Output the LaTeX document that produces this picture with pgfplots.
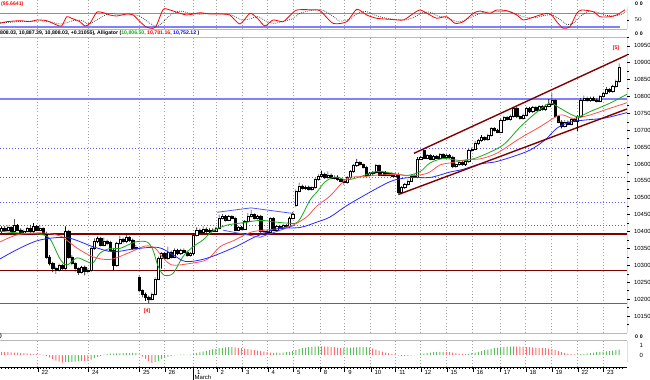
\documentclass[border=0pt]{standalone}
\usepackage{fontspec}
\setmainfont{Liberation Sans}
\usepackage{pgfplots}
\pgfplotsset{compat=1.18}
\usepackage{pgfplotstable}
\pgfplotsset{scaled ticks=false}

\definecolor{lblue}{RGB}{128,128,255}
\definecolor{dotblue}{RGB}{90,90,255}
\definecolor{dred}{RGB}{128,0,0}
\definecolor{agreen}{RGB}{20,170,20}
\definecolor{ared}{RGB}{255,80,80}
\definecolor{ablue}{RGB}{40,40,255}
\definecolor{aogreen}{RGB}{90,190,90}
\definecolor{aored}{RGB}{255,110,110}
\definecolor{gridgray}{RGB}{165,165,165}
\definecolor{sepgray}{RGB}{185,185,185}
\newcommand\tf{\fontsize{6}{6}\selectfont}
\newcommand\hf{\fontsize{5.2}{6}\selectfont\bfseries}

\pgfplotstableread{
i o h l c
0 10400 10415 10395 10410
1 10410 10416 10400 10405
2 10405 10418 10401 10412
3 10412 10416 10396 10400
4 10400 10437 10397 10418
5 10418 10422 10402 10405
6 10405 10409 10390 10395
7 10395 10406 10391 10402
8 10402 10414 10398 10410
9 10410 10420 10396 10400
10 10400 10425 10397 10415
11 10415 10419 10401 10405
12 10405 10420 10401 10410
13 10410 10414 10390 10395
14 10395 10400 10320 10325
15 10325 10330 10300 10305
16 10305 10310 10280 10290
17 10290 10296 10275 10285
18 10285 10305 10281 10300
19 10300 10304 10286 10290
20 10290 10415 10287 10400
21 10400 10405 10320 10325
22 10325 10330 10300 10305
23 10305 10310 10280 10290
24 10290 10294 10272 10280
25 10280 10298 10276 10295
26 10295 10299 10270 10282
27 10282 10290 10276 10285
28 10285 10355 10280 10350
29 10350 10380 10346 10370
30 10370 10385 10366 10380
31 10380 10384 10356 10360
32 10360 10382 10356 10372
33 10372 10376 10360 10365
34 10368 10372 10341 10345
35 10345 10350 10285 10300
36 10300 10369 10296 10365
37 10365 10388 10361 10378
38 10378 10382 10365 10370
39 10370 10390 10366 10382
40 10382 10386 10370 10375
41 10375 10379 10346 10350
42 10350 10360 10346 10355
43 10265 10270 10220 10225
44 10225 10229 10205 10215
45 10215 10219 10195 10205
46 10205 10210 10188 10200
47 10200 10219 10196 10215
48 10215 10264 10211 10260
49 10260 10326 10256 10322
50 10320 10338 10290 10335
51 10335 10339 10315 10320
52 10320 10355 10316 10340
53 10340 10344 10320 10325
54 10325 10350 10321 10345
55 10345 10349 10330 10335
56 10335 10349 10331 10345
57 10345 10350 10335 10340
58 10340 10344 10325 10330
59 10330 10339 10326 10335
60 10335 10395 10331 10390
61 10390 10412 10386 10405
62 10405 10409 10393 10398
63 10398 10415 10394 10408
64 10408 10412 10395 10400
65 10400 10409 10396 10405
66 10405 10409 10398 10402
67 10402 10414 10398 10410
68 10410 10450 10406 10440
69 10440 10452 10436 10445
70 10445 10449 10430 10435
71 10435 10449 10431 10445
72 10445 10449 10436 10440
73 10440 10444 10401 10405
74 10405 10416 10401 10412
75 10412 10416 10404 10408
76 10408 10434 10404 10430
77 10430 10455 10426 10445
78 10445 10464 10441 10450
79 10450 10454 10436 10440
80 10440 10449 10436 10445
81 10445 10449 10396 10400
82 10400 10406 10396 10402
83 10402 10406 10394 10398
84 10398 10442 10394 10438
85 10438 10442 10401 10405
86 10405 10419 10401 10415
87 10415 10419 10406 10410
88 10410 10422 10406 10418
89 10418 10422 10411 10415
90 10415 10444 10411 10440
91 10440 10458 10436 10450
92 10478 10525 10472 10520
93 10520 10545 10516 10535
94 10535 10539 10524 10528
95 10528 10536 10524 10532
96 10532 10536 10521 10525
97 10525 10534 10521 10530
98 10530 10559 10526 10555
99 10555 10569 10551 10565
100 10565 10580 10561 10570
101 10570 10574 10556 10560
102 10560 10578 10556 10568
103 10568 10572 10554 10558
104 10558 10566 10554 10562
105 10562 10566 10551 10555
106 10555 10559 10546 10550
107 10550 10554 10538 10545
108 10545 10564 10541 10560
109 10560 10582 10556 10578
110 10578 10599 10574 10595
111 10595 10615 10591 10605
112 10605 10609 10594 10598
113 10598 10602 10586 10590
114 10590 10594 10564 10568
115 10568 10576 10564 10572
116 10572 10579 10568 10575
117 10575 10600 10571 10595
118 10595 10599 10564 10568
119 10568 10579 10564 10575
120 10575 10579 10564 10568
121 10568 10576 10564 10572
122 10572 10576 10561 10565
123 10565 10574 10561 10570
124 10570 10574 10508 10515
125 10515 10534 10511 10530
126 10530 10544 10526 10540
127 10540 10554 10536 10550
128 10550 10569 10546 10565
129 10565 10569 10558 10562
130 10562 10620 10558 10615
131 10615 10624 10611 10620
132 10640 10647 10614 10618
133 10618 10629 10614 10625
134 10625 10629 10611 10615
135 10615 10626 10611 10622
136 10622 10626 10614 10618
137 10618 10632 10614 10628
138 10628 10632 10616 10620
139 10620 10629 10616 10625
140 10625 10629 10616 10620
141 10620 10624 10588 10592
142 10592 10602 10588 10598
143 10598 10609 10594 10605
144 10605 10609 10594 10598
145 10598 10612 10594 10608
146 10608 10644 10604 10640
147 10640 10649 10636 10645
148 10645 10668 10641 10660
149 10660 10674 10656 10670
150 10670 10685 10666 10678
151 10678 10682 10668 10672
152 10672 10689 10668 10685
153 10685 10709 10681 10705
154 10705 10709 10696 10700
155 10700 10704 10691 10695
156 10695 10734 10691 10730
157 10730 10742 10726 10738
158 10738 10742 10728 10732
159 10732 10746 10728 10742
160 10742 10769 10738 10765
161 10765 10770 10736 10740
162 10740 10744 10731 10735
163 10735 10749 10731 10745
164 10745 10769 10741 10765
165 10765 10769 10751 10755
166 10755 10772 10751 10768
167 10768 10772 10756 10760
168 10760 10774 10756 10770
169 10770 10774 10758 10762
170 10762 10776 10758 10772
171 10772 10792 10768 10778
172 10778 10810 10774 10788
173 10788 10792 10736 10740
174 10740 10744 10721 10725
175 10725 10729 10705 10712
176 10712 10729 10708 10725
177 10725 10729 10714 10718
178 10718 10736 10714 10732
179 10732 10736 10724 10728
180 10728 10744 10698 10740
181 10740 10795 10736 10790
182 10790 10802 10786 10795
183 10795 10799 10784 10788
184 10788 10799 10784 10795
185 10795 10799 10786 10790
186 10790 10794 10782 10786
187 10786 10804 10782 10800
188 10800 10814 10796 10810
189 10810 10828 10806 10820
190 10820 10824 10811 10815
191 10815 10834 10811 10830
192 10830 10850 10826 10845
193 10845 10898 10840 10887
}\candles

\pgfplotstableread{
x p
0 10401
17 10396
40 10392
50 10378
60 10319
67 10301
77 10322
87 10311
93 10307
100 10336
110 10350
120 10350
135 10369
147 10369
153 10345
158 10298
164 10271
173 10276
183 10326
193 10355
203 10375
213 10402
227 10419
243 10426
260 10433
273 10429
287 10425
298 10429
310 10493
317 10517
325 10547
335 10561
347 10553
360 10562
377 10578
393 10572
407 10566
420 10577
430 10603
443 10616
455 10612
465 10610
480 10622
503 10656
520 10709
537 10754
550 10780
560 10765
577 10740
590 10755
610 10780
627 10806.5
}\lips

\pgfplotstableread{
x p
0 10369
17 10390
40 10396
60 10387
77 10351
93 10325
110 10317
128 10336
145 10357
155 10351
163 10322
172 10301
187 10304
207 10317
220 10355
235 10375
252 10399
277 10408
293 10419
307 10444
317 10476
330 10505
347 10557
363 10562
377 10567
397 10569
410 10565
427 10572
440 10597
452 10604
467 10613
480 10615
497 10632
520 10676
540 10710
560 10745
573 10735
590 10745
608 10763
627 10781.2
}\teeth

\pgfplotstableread{
x p
0 10319
20 10351
40 10375
67 10382
93 10355
113 10340
133 10348
158 10353
173 10331
186 10311
207 10321
235 10354
255 10384
277 10408
300 10412
317 10428
330 10443
348 10479
377 10528
393 10551
410 10560
430 10560
450 10576
463 10584
480 10600
495 10606
513 10622
530 10641
545 10671
557 10706
570 10724
585 10730
605 10736
627 10752.1
}\jaw

\pgfplotstableread{
x v
0 35.2
6.7 42.4
20 46.9
30 42.4
36.7 50
46.7 46.9
56.7 27.6
61.7 23.1
66.7 64.8
71.7 57.6
80 42.4
85 23.1
90 35.2
96.7 84.5
103.3 82.7
110 72.4
116.7 67.9
126.7 76.9
133.3 72.4
140 42.4
146.7 17.3
153.3 12.8
156.7 27.6
163.3 98
170 94.8
180 80
186.7 72.4
193.3 76.9
200 82.7
210 76.9
222 76.9
230 72
240 32
250 80
258 55
265 23
273 50
283 42.4
290 70
296.7 94.8
310 96
320 91.6
333 35.2
346.7 42.4
356.7 98
366.7 72.4
376.7 57.6
390 53
403.3 50
412 75
420 94.8
430 72.4
436.7 57.6
446.7 64.8
455 35.2
463.3 42.4
473.3 80
480 90.3
490 80
496.7 94.8
506.7 91.6
516.7 72.4
523.3 50
530 57.6
540 72.4
546.7 80
551.7 72.4
556.7 42.4
563.3 12.8
570 20
576.7 80
581.7 94.8
593.3 87.2
600 64.8
610 64.8
616.7 72.4
625 95.7
}\stochk

\pgfplotstableread{
x v
0 38
10 40
22 44
32 45
42 46
52 40
60 32
67 38
74 48
82 48
88 33
95 45
102 65
110 80
118 74
128 72
136 72
143 58
150 35
157 20
164 45
171 75
180 90
190 80
200 76
210 80
220 78
232 72
242 50
250 55
258 65
266 45
274 35
284 45
292 55
300 80
310 92
322 95
332 70
340 45
350 55
358 80
366 88
376 70
386 58
396 52
405 50
414 62
422 82
430 85
438 68
446 62
452 50
460 42
468 55
476 72
484 85
492 86
500 88
510 88
520 70
528 60
537 62
546 72
553 72
560 52
567 30
573 35
580 65
588 88
597 85
605 72
613 68
621 75
625 85
}\stochd

\pgfplotstableread{
i v g
0 3.2 0
1 3.0 0
2 2.8 0
3 2.6 0
4 2.5 0
5 2.3 0
6 2.0 0
7 1.8 0
8 1.6 0
9 1.3 0
10 1.0 0
11 0.8 0
12 0.6 0
13 0.3 0
14 -1.0 0
15 -2.5 0
16 -4.0 0
17 -5.5 0
18 -6.5 0
19 -7.6 0
20 -7.2 1
21 -7.0 1
22 -6.8 1
23 -6.5 1
24 -6.2 1
25 -5.8 1
26 -6.0 0
27 -6.2 0
28 -4.5 1
29 -3.0 1
30 -1.8 1
31 -0.8 1
32 0.3 1
33 0.9 1
34 1.3 1
35 1.5 1
36 1.6 1
37 1.7 1
38 1.8 1
39 1.9 1
40 2.0 1
41 2.1 1
42 2.2 1
43 0.6 0
44 -1.5 0
45 -4.0 0
46 -6.0 0
47 -8.0 0
48 -7.2 1
49 -5.8 1
50 -4.2 1
51 -2.6 1
52 -1.5 1
53 -0.8 1
54 -0.3 1
55 0.2 1
56 0.4 1
57 0.3 0
58 0.2 0
59 0.5 1
60 1.0 1
61 1.8 1
62 2.6 1
63 3.4 1
64 4.2 1
65 5.0 1
66 5.6 1
67 6.2 1
68 6.8 1
69 7.2 1
70 7.6 1
71 7.8 1
72 8.0 1
73 7.6 0
74 7.2 0
75 6.8 0
76 6.5 0
77 6.0 0
78 5.5 0
79 5.0 0
80 4.5 0
81 4.0 0
82 3.5 0
83 3.0 0
84 2.5 0
85 2.2 0
86 2.3 1
87 2.2 0
88 2.5 1
89 2.8 1
90 3.2 1
91 4.0 1
92 5.0 1
93 6.0 1
94 6.8 1
95 7.4 1
96 7.8 1
97 8.2 1
98 8.5 1
99 8.6 1
100 8.7 1
101 8.5 0
102 8.3 0
103 8.0 0
104 7.8 0
105 7.5 0
106 7.2 0
107 7.3 1
108 7.4 1
109 7.5 1
110 7.6 1
111 7.7 1
112 7.8 1
113 7.9 1
114 8.0 1
115 7.5 0
116 6.5 0
117 5.5 0
118 4.5 0
119 3.5 0
120 2.5 0
121 1.8 0
122 1.2 0
123 0.8 0
124 -0.3 0
125 -0.8 0
126 -1.0 0
127 -0.9 1
128 -0.6 1
129 -0.2 1
130 0.3 1
131 0.8 1
132 1.4 1
133 2.0 1
134 2.5 1
135 2.8 1
136 3.0 1
137 3.1 1
138 3.2 1
139 3.0 0
140 2.8 0
141 2.5 0
142 2.0 0
143 1.5 0
144 1.2 0
145 1.0 0
146 1.2 1
147 1.8 1
148 2.5 1
149 3.2 1
150 4.0 1
151 4.8 1
152 5.5 1
153 6.2 1
154 6.8 1
155 7.3 1
156 7.7 1
157 8.0 1
158 8.3 1
159 8.5 1
160 8.6 1
161 8.5 0
162 8.3 0
163 8.2 0
164 8.0 0
165 7.8 0
166 7.6 0
167 7.4 0
168 7.2 0
169 7.0 0
170 6.8 0
171 6.5 0
172 6.0 0
173 5.0 0
174 4.0 0
175 3.0 0
176 2.2 0
177 1.5 0
178 1.0 0
179 0.7 0
180 0.6 0
181 0.8 1
182 1.2 1
183 1.6 1
184 2.0 1
185 2.4 1
186 2.8 1
187 3.1 1
188 3.4 1
189 3.7 1
190 4.0 1
191 4.4 1
192 4.8 1
193 5.3 1
}\ao

\def\daylist{37.7,88.3,139.3,164.7,193.3,216.7,242.3,267.7,293.3,320,344.5,370.7,395.5,420.7,446.7,472.7,500,525.7,551.7,577.7,603.3}

\pgfplotsset{
  mainpanel/.style={at={(0bp,-37bp)}, anchor=north west, scale only axis,
    width=627bp, height=296bp, xmin=0, xmax=627, ymin=10099.6, ymax=10975.8},
  vgrid/.style={xtick/.expand once=\daylist, xticklabels={}, xmajorgrids,
    major x grid style={gridgray, line width=0.6bp, dash pattern=on 0.8bp off 2.4bp}},
}

\begin{document}
\begin{tikzpicture}
\useasboundingbox (0,0) rectangle (650bp,-380bp);

% ---------- stochastic panel ----------
\begin{axis}[at={(0bp,0bp)}, anchor=north west, scale only axis,
  width=627bp, height=29bp, xmin=0, xmax=627, ymin=9.7, ymax=139.6,
  axis line style={draw=none}, vgrid, x tick style={draw=none},
  ytick={50}, ytick pos=right, yticklabel pos=right, tick align=outside,
  major tick length=2bp, y tick style={black, line width=0.4bp},
  yticklabel style={font=\tf, xshift=2bp}]
\addplot[lblue, line width=1.6bp] coordinates {(0,80) (620,80)};
\addplot[lblue, line width=1.6bp] coordinates {(0,20) (620,20)};
\addplot[black!80, line width=0.7bp, dash pattern=on 0.8bp off 1.2bp, smooth, tension=0.4] table[x=x,y=v] {\stochd};
\addplot[red, line width=0.8bp, smooth, tension=0.4] table[x=x,y=v] {\stochk};
\draw[black, line width=0.5bp] (rel axis cs:1,0) -- (rel axis cs:1,0.76);
\end{axis}
\node[anchor=west, inner sep=0pt, text=red] at (1bp,-4bp) {\hf (95.6641)};

\draw[sepgray, line width=1bp] (0,-29.5bp) -- (627bp,-29.5bp);
\node[anchor=west, inner sep=0pt] at (0bp,-33.3bp) {\hf 808.03, 10,887.39, 10,808.03, +0.31055), Alligator (\textcolor{agreen}{10,806.50,} \textcolor{red}{10,781.16,} \textcolor{blue}{10,752.12} )};
\draw[sepgray, line width=0.8bp] (0,-37bp) -- (627bp,-37bp);

% ---------- main panel: grid, levels, axis ----------
\begin{axis}[mainpanel, axis line style={draw=none}, vgrid, x tick style={draw=none},
  ytick={10150,10200,...,10950}, minor ytick={10125,10175,...,10975},
  ytick pos=right, yticklabel pos=right, tick align=outside,
  major tick length=2.5bp, minor tick length=1.5bp,
  y tick style={black, line width=0.4bp},
  yticklabel style={font=\tf, xshift=1bp},
  y tick label style={/pgf/number format/fixed, /pgf/number format/precision=0, /pgf/number format/1000 sep={}, /pgf/number format/assume math mode=true}]
\addplot[lblue, line width=2bp] coordinates {(0,10792) (627,10792)};
\addplot[dotblue, line width=0.8bp, dash pattern=on 1bp off 2bp] coordinates {(0,10647) (627,10647)};
\addplot[dotblue, line width=0.8bp, dash pattern=on 1bp off 2bp] coordinates {(0,10560) (627,10560)};
\addplot[dotblue, line width=0.8bp, dash pattern=on 1bp off 2bp] coordinates {(0,10486) (627,10486)};
\addplot[dotblue, line width=0.8bp, dash pattern=on 1bp off 2bp] coordinates {(0,10417) (627,10417)};
\addplot[dred, line width=1.4bp] coordinates {(0,10393) (627,10393)};
\addplot[dred, line width=1.4bp] coordinates {(0,10285) (627,10285)};
\addplot[ablue!80, line width=0.8bp] coordinates {(0,10188) (627,10188)};
\draw[black, line width=0.5bp] (rel axis cs:1,0) -- (rel axis cs:1,1);
\end{axis}

% ---------- candles ----------
\begin{axis}[mainpanel, hide axis, ybar stacked, clip=true]
\addplot[draw=none, fill=none, bar width=2.2bp] table[x expr=1.5+3.2*\thisrow{i}, y=l] {\candles};
\addplot[draw=none, fill=black, bar width=0.6bp] table[x expr=1.5+3.2*\thisrow{i}, y expr={min(\thisrow{o},\thisrow{c})-\thisrow{l}}] {\candles};
\addplot[draw=black, fill=white, line width=0.4bp, bar width=2.2bp] table[x expr=1.5+3.2*\thisrow{i}, y expr={max(\thisrow{c}-\thisrow{o},0)}] {\candles};
\addplot[draw=black, fill=black, line width=0.4bp, bar width=2.2bp] table[x expr=1.5+3.2*\thisrow{i}, y expr={max(\thisrow{o}-\thisrow{c},0)}] {\candles};
\addplot[draw=none, fill=black, bar width=0.6bp] table[x expr=1.5+3.2*\thisrow{i}, y expr={\thisrow{h}-max(\thisrow{o},\thisrow{c})}] {\candles};
\end{axis}

% ---------- overlays ----------
\begin{axis}[mainpanel, hide axis, clip=true]
\addplot[agreen, line width=0.8bp, smooth] table[x=x,y=p] {\lips};
\addplot[ared, line width=0.8bp, smooth] table[x=x,y=p] {\teeth};
\addplot[ablue, line width=0.8bp, smooth] table[x=x,y=p] {\jaw};
\addplot[dred, line width=1.4bp] coordinates {(414,10631.5) (627,10922.5)};
\addplot[dred, line width=1.4bp] coordinates {(399,10510.2) (627,10762.7)};
\addplot[ablue!80, line width=0.8bp] coordinates {(217,10457) (251,10470) (294,10453)};
\addplot[ablue!80, line width=0.8bp] coordinates {(223,10404) (260,10383) (295,10419)};
\node[text=red, font=\hf] at (axis cs:147,10165) {[4]};
\node[text=red, font=\hf] at (axis cs:616,10943) {[5]};
\end{axis}

\draw[sepgray, line width=1.2bp] (0,-333.5bp) -- (627bp,-333.5bp);
\node[anchor=west, inner sep=0pt] at (0bp,-336.5bp) {\hf )};
\draw[sepgray, line width=0.6bp] (0,-340bp) -- (627bp,-340bp);

% ---------- awesome oscillator + time ruler ----------
\begin{axis}[at={(0bp,-340bp)}, anchor=north west, scale only axis,
  width=627bp, height=27bp, xmin=0, xmax=627, ymin=-12, ymax=15,
  axis line style={draw=none},
  xtick/.expand once=\daylist,
  xticklabels={22,24,25,26,1,2,3,4,5,8,9,10,11,12,15,16,17,18,19,22,23},
  minor xtick={1.5,4.7,...,621},
  xtick pos=bottom, tick align=outside, major tick length=5bp, minor tick length=2bp,
  x tick style={black, line width=0.4bp},
  xmajorgrids, major x grid style={gridgray, line width=0.6bp, dash pattern=on 0.8bp off 2.4bp},
  xticklabel style={font=\tf, anchor=north west, xshift=0.3bp, yshift=5.5bp},
  ytick={0,10}, yticklabels={0,1}, minor ytick={-9,0,10}, ytick pos=right, yticklabel pos=right,
  y tick style={draw=none}, minor y tick style={black, line width=0.4bp},
  yticklabel style={font=\tf, xshift=4bp},
  ybar, bar width=1bp]
\addplot[draw=none, fill=aored, bar shift=0pt, restrict expr to domain={\thisrow{g}}{0:0}] table[x expr=1.5+3.2*\thisrow{i}, y=v] {\ao};
\addplot[draw=none, fill=aogreen, bar shift=0pt, restrict expr to domain={\thisrow{g}}{1:1}] table[x expr=1.5+3.2*\thisrow{i}, y=v] {\ao};
\draw[black, line width=0.5bp] (rel axis cs:1,0.2) -- (rel axis cs:1,0.95);
\draw[black, line width=0.5bp] (rel axis cs:0,0) -- (rel axis cs:1,0);
\end{axis}
\draw[black, line width=0.4bp] (193.3bp,-367bp) -- (193.3bp,-380bp);
\node[anchor=west, inner sep=0pt, font=\tf] at (194.5bp,-377bp) {March};

\foreach \yy in {3.3,33.3,336.5} {
  \node[anchor=west, inner sep=0pt, font=\hf] at (635bp,-\yy bp) {0\,\,0};
}
\end{tikzpicture}
\end{document}
